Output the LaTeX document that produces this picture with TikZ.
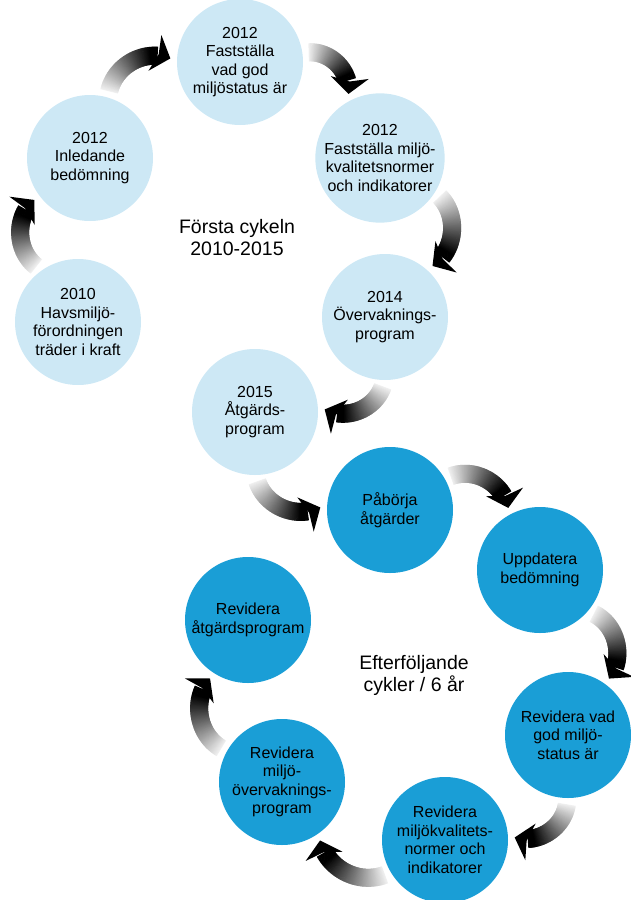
\documentclass[tikz,border=0pt]{standalone}
\usepackage{fontspec}
\setmainfont{Liberation Sans}
\usetikzlibrary{decorations.markings}
\definecolor{ljusbla}{HTML}{CDE8F5}
\definecolor{morkbla}{HTML}{1A9ED6}
\tikzset{
  steg/.style={circle, minimum size=126pt, inner sep=0pt, outer sep=7pt, align=center,
    font=\fontsize{16}{18.5}\selectfont},
  forsta/.style={steg, fill=ljusbla},
  senare/.style={steg, fill=morkbla},
  rubrik/.style={align=center, font=\fontsize{19.5}{22}\selectfont},
  pil/.style={postaction={decorate}, decoration={markings,
      mark=between positions 0 and -13pt step 0.8pt with {
        \pgfmathsetmacro\svart{min(100,6+105*\pgfkeysvalueof{/pgf/decoration/mark info/distance from start}/(\pgfdecoratedpathlength-13pt))}
        \fill[black!\svart!white] (-0.7pt,-9pt) -- (0.7pt,-9pt) -- (0.7pt,9pt) -- (-0.7pt,9pt) -- cycle;},
      mark=at position 0.999 with {
        \fill[black] (0.4pt,0pt) -- (-16pt,19pt) -- (-12pt,0pt) -- (-16pt,-19pt) -- cycle;}}}
}
\begin{document}
\begin{tikzpicture}[x=1pt, y=-1pt]
  \useasboundingbox (0,0) rectangle (630,900);
  % forsta cykeln
  \node[forsta] (vad) at (240,62) {2012\\Fastställa\\vad god\\miljöstatus är};
  \node[forsta] (kval) at (380,158) {2012\\Fastställa miljö-\\kvalitetsnormer\\och indikatorer};
  \node[forsta] (overv) at (385,317) {2014\\Övervaknings-\\program};
  \node[forsta] (atg) at (255,412) {2015\\Åtgärds-\\program};
  \node[forsta] (havs) at (78,322) {2010\\Havsmiljö-\\förordningen\\träder i kraft};
  \node[forsta] (inled) at (90,158) {2012\\Inledande\\bedömning};
  \node[rubrik] (cykel1) at (237,238) {Första cykeln\\2010-2015};
  % efterfoljande cykler
  \node[senare] (pabo) at (390,510) {Påbörja\\åtgärder};
  \node[senare] (uppd) at (540,570) {Uppdatera\\bedömning};
  \node[senare] (rvad) at (568,735) {Revidera vad\\god miljö-\\status är};
  \node[senare] (rkval) at (445,840) {Revidera\\miljökvalitets-\\normer och\\indikatorer};
  \node[senare] (rovr) at (282,782) {Revidera\\miljö-\\övervaknings-\\program};
  \node[senare] (ratg) at (248,620) {Revidera\\åtgärdsprogram};
  \node[rubrik] (cykel2) at (414,675) {Efterföljande\\cykler / 6 år};
  % pilar
  \foreach \fran/\vfran/\till/\vtill/\bojning in {
      havs/127/inled/217/50,
      inled/74/vad/177/48,
      vad/8/kval/116/48,
      kval/-33/overv/47/50,
      overv/-92/atg/2/48,
      atg/-88/pabo/178/-48,
      pabo/29/uppd/117/48,
      uppd/-39/rvad/54/50,
      rvad/-91/rkval/2/48,
      rkval/210/rovr/303/48,
      rovr/151/ratg/237/50}{
    \path[pil] (\fran.\vfran) to[bend left=\bojning] (\till.\vtill);
  }
\end{tikzpicture}
\end{document}
